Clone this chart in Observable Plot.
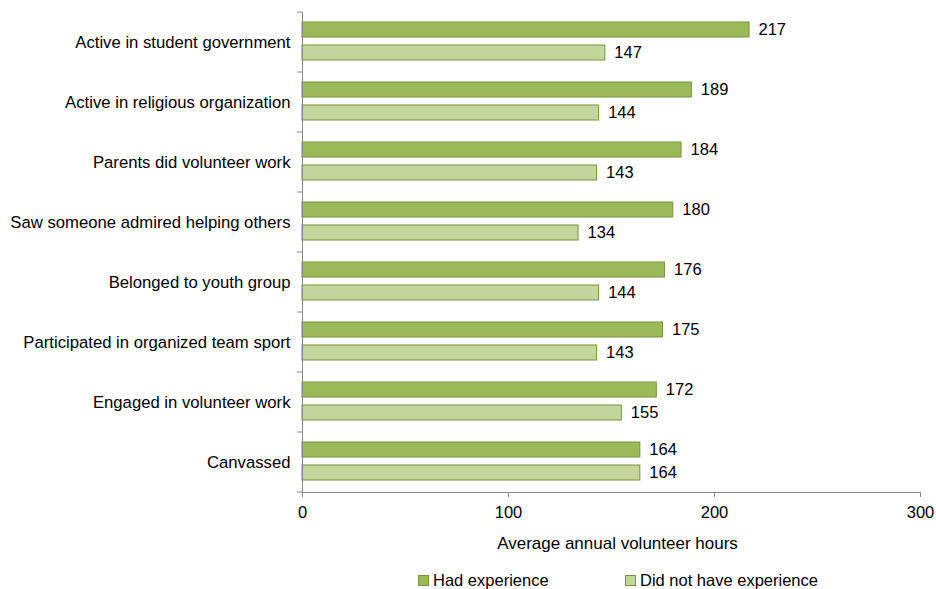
<!DOCTYPE html>
<html>
<head>
<meta charset="utf-8">
<script src="https://cdn.jsdelivr.net/npm/d3@7"></script>
<script src="https://cdn.jsdelivr.net/npm/@observablehq/plot@0.6"></script>
<style>
  body { margin: 0; background: #fff; font-family: "Liberation Sans", Arial, sans-serif; }
  #chart svg { display: block; }
  .legend { position: relative; height: 34px; font-size: 16.5px; color: #000; }
  .item { position: absolute; top: 16px; display: flex; align-items: center; }
  .sw { width: 9px; height: 9px; margin-right: 4px; border: 1px solid #77933c; }
</style>
</head>
<body>
<div id="chart"></div>
<div class="legend">
  <div class="item" style="left:418px"><span class="sw" style="background:#9bbb59"></span><span id="l1"></span></div>
  <div class="item" style="left:625px"><span class="sw" style="background:#c3d69b"></span><span id="l2"></span></div>
</div>
<script>
const categories = [
  "Active in student government",
  "Active in religious organization",
  "Parents did volunteer work",
  "Saw someone admired helping others",
  "Belonged to youth group",
  "Participated in organized team sport",
  "Engaged in volunteer work",
  "Canvassed"
];
const hadExperience = [217, 189, 184, 180, 176, 175, 172, 164];
const noExperience = [147, 144, 143, 134, 144, 143, 155, 164];
const seriesNames = ["Had experience", "Did not have experience"];
const xTicks = [0, 100, 200, 300];
const axisTitle = "Average annual volunteer hours";

document.getElementById("l1").textContent = seriesNames[0];
document.getElementById("l2").textContent = seriesNames[1];

const had = categories.map((c, i) => ({category: c, value: hadExperience[i]}));
const no = categories.map((c, i) => ({category: c, value: noExperience[i]}));

const axisColor = "#868686";
const darkFill = "#9bbb59", lightFill = "#c3d69b", barStroke = "#77933c";
const fs = 16.5;

// band boundary ticks on the category axis (Excel style)
const boundaryTicks = (index, scales) => {
  const g = d3.create("svg:g");
  const y = scales.y, bw = y.bandwidth();
  const x0 = scales.x(0);
  const ys = categories.map(c => y(c)).concat([y(categories[categories.length - 1]) + bw]);
  g.selectAll("line").data(ys).join("line")
    .attr("x1", x0 - 5).attr("x2", x0)
    .attr("y1", d => d).attr("y2", d => d)
    .attr("stroke", axisColor).attr("stroke-width", 1);
  return g.node();
};

const chart = Plot.plot({
  width: 936,
  height: 555,
  marginLeft: 302,
  marginRight: 16,
  marginTop: 12,
  marginBottom: 63,
  style: {fontFamily: '"Liberation Sans", Arial, sans-serif', fontSize: fs + "px", color: "#000", background: "#fff"},
  x: {domain: [0, 300], axis: null},
  y: {domain: categories, padding: 0, round: false, axis: null},
  marks: [
    Plot.barX(had, {x: "value", y: "category", fill: darkFill, stroke: barStroke, strokeWidth: 1, insetTop: 10, insetBottom: 35}),
    Plot.barX(no, {x: "value", y: "category", fill: lightFill, stroke: barStroke, strokeWidth: 1, insetTop: 33, insetBottom: 12}),
    Plot.text(had, {x: "value", y: "category", text: d => String(d.value), textAnchor: "start", dx: 9, dy: -12.5, fill: "#000", fontSize: fs}),
    Plot.text(no, {x: "value", y: "category", text: d => String(d.value), textAnchor: "start", dx: 9, dy: 10.5, fill: "#000", fontSize: fs}),
    Plot.axisY({tickSize: 0, tickPadding: 12, fill: "#000", label: null, fontSize: 16.7}),
    Plot.axisX({ticks: xTicks, tickSize: 5, tickPadding: 9, stroke: axisColor, fill: "#000", label: null, tickFormat: d3.format("d"), fontSize: fs}),
    Plot.ruleX([0], {stroke: axisColor}),
    Plot.frame({anchor: "bottom", stroke: axisColor}),
    Plot.text([axisTitle], {frameAnchor: "bottom", dy: 56, dx: 6, fill: "#000", fontSize: 17}),
    boundaryTicks
  ]
});
document.getElementById("chart").appendChild(chart);
</script>
</body>
</html>
